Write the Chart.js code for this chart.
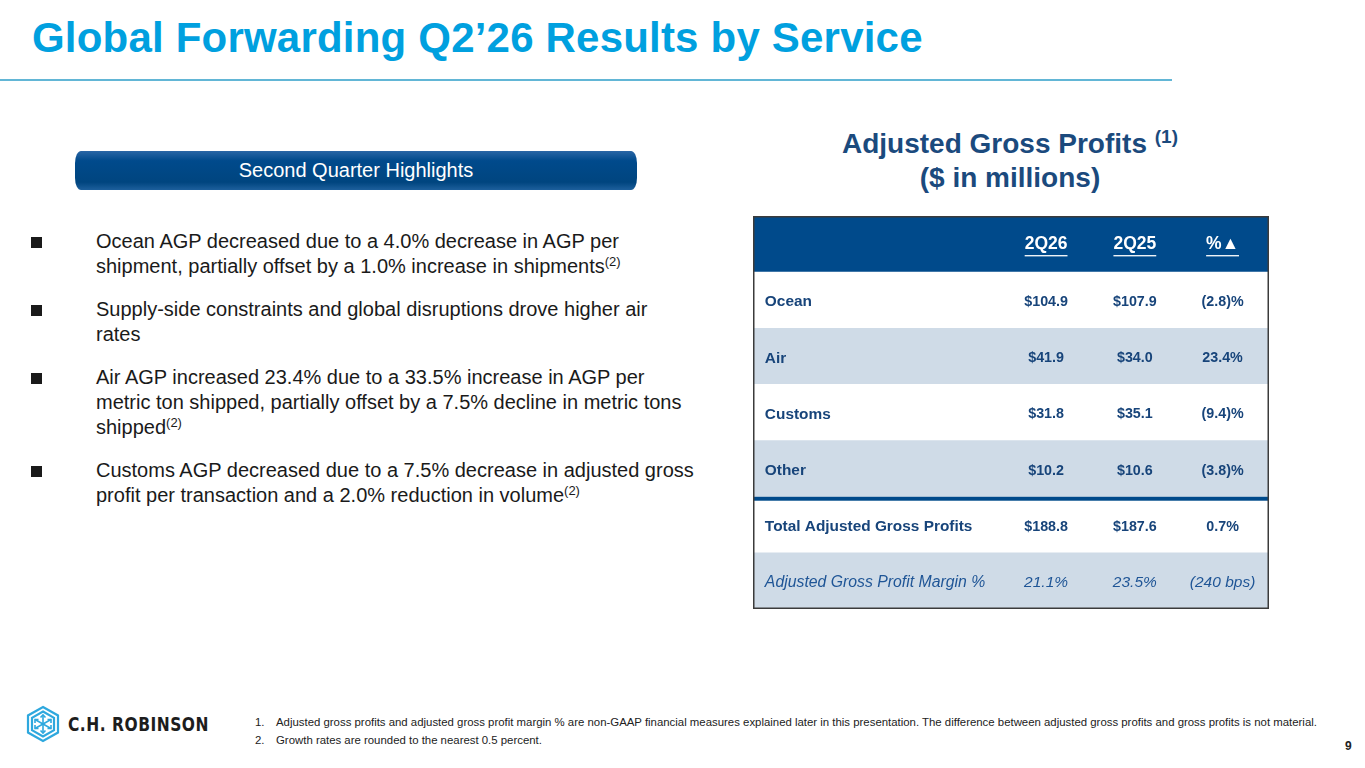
<!DOCTYPE html>
<html>
<head>
<meta charset="utf-8">
<script src="https://cdn.jsdelivr.net/npm/chart.js@4.4.1/dist/chart.umd.min.js"></script>
<style>
  html, body { margin: 0; padding: 0; background: #fff; }
  body { width: 1365px; height: 768px; position: relative; overflow: hidden; font-family: "Liberation Sans", Arial, sans-serif; }
  .title { position: absolute; left: 32px; top: 14px; font-size: 42px; font-weight: bold; color: #00a0df; letter-spacing: 0.2px; }
  .rule { position: absolute; left: 0; top: 79px; width: 1172px; height: 2px; background: #62b6d6; }
  .pill { position: absolute; left: 75px; top: 151px; width: 562px; height: 39px; border-radius: 6px / 12px;
          background: linear-gradient(#2a66a5, #004a8c 25%, #00457f 80%, #1d5f9c); color: #fff; font-size: 20px;
          text-align: center; line-height: 39px; }
  .bullets { position: absolute; left: 30px; top: 229px; width: 700px; font-size: 20px; color: #1a1a1a; line-height: 25.3px; white-space: nowrap; }
  .bullets .b { position: relative; padding-left: 66px; margin-bottom: 17.3px; }
  .bullets .b:before { content: ""; position: absolute; left: 1px; top: 8px; width: 11px; height: 11px; background: #1a1a1a; }
  sup { font-size: 13px; vertical-align: 0; position: relative; top: -7px; line-height: 0; }
  .agp { position: absolute; left: 760px; width: 500px; top: 127px; text-align: center; font-size: 28px; font-weight: bold; color: #1b4a7d; line-height: 34px; }
  .agp sup { font-size: 19px; top: -10px; }
  #wrap { position: absolute; left: 753px; top: 216px; width: 516px; height: 393px; }
  .notes { position: absolute; left: 255px; top: 713px; font-size: 11.4px; color: #222; line-height: 18px; }
  .notes span { display: inline-block; width: 21px; }
  .page { position: absolute; left: 1345px; top: 739px; font-size: 12px; font-weight: bold; color: #222; }
  .logo { position: absolute; left: 24px; top: 705px; }
  .logotext { position: absolute; left: 68px; top: 712px; font-family: "DejaVu Sans Condensed", "DejaVu Sans", sans-serif; font-size: 20px; font-weight: bold; color: #1d1d1d; letter-spacing: 0.6px; transform: scaleX(0.86); transform-origin: left; }
</style>
</head>
<body>
<div class="title">Global Forwarding Q2’26 Results by Service</div>
<div class="rule"></div>

<div class="pill">Second Quarter Highlights</div>

<div class="bullets">
  <div class="b">Ocean AGP decreased due to a 4.0% decrease in AGP per<br>shipment, partially offset by a 1.0% increase in shipments<sup>(2)</sup></div>
  <div class="b">Supply-side constraints and global disruptions drove higher air<br>rates</div>
  <div class="b">Air AGP increased 23.4% due to a 33.5% increase in AGP per<br>metric ton shipped, partially offset by a 7.5% decline in metric tons<br>shipped<sup>(2)</sup></div>
  <div class="b">Customs AGP decreased due to a 7.5% decrease in adjusted gross<br>profit per transaction and a 2.0% reduction in volume<sup>(2)</sup></div>
</div>

<div class="agp">Adjusted Gross Profits <sup>(1)</sup><br>($ in millions)</div>

<div id="wrap"><canvas id="agpTable"></canvas></div>

<svg class="logo" width="38" height="38" viewBox="0 0 38 38">
  <g fill="none" stroke="#2ea8de" stroke-width="2.2">
    <polygon points="19,2 34,10.5 34,27.5 19,36 4,27.5 4,10.5"/>
    <polygon points="19,6.5 30,12.8 30,25.2 19,31.5 8,25.2 8,12.8"/>
  </g>
  <g stroke="#2ea8de" stroke-width="1.6" fill="none">
    <line x1="19" y1="10" x2="19" y2="28"/>
    <line x1="11" y1="14.5" x2="27" y2="23.5"/>
    <line x1="27" y1="14.5" x2="11" y2="23.5"/>
    <polyline points="16.5,12.5 19,10 21.5,12.5"/>
    <polyline points="16.5,25.5 19,28 21.5,25.5"/>
    <polyline points="11,18 11,14.5 14.5,14.5"/>
    <polyline points="27,20 27,23.5 23.5,23.5"/>
    <polyline points="23.5,14.5 27,14.5 27,18"/>
    <polyline points="14.5,23.5 11,23.5 11,20"/>
  </g>
</svg>
<div class="logotext">C.H. ROBINSON</div>

<div class="notes">
  <div><span>1.</span>Adjusted gross profits and adjusted gross profit margin % are non-GAAP financial measures explained later in this presentation. The difference between adjusted gross profits and gross profits is not material.</div>
  <div><span>2.</span>Growth rates are rounded to the nearest 0.5 percent.</div>
</div>
<div class="page">9</div>

<script>
// table data
const columns = ['2Q26', '2Q25', '%▲'];
const services = ['Ocean', 'Air', 'Customs', 'Other'];
const agp2Q26 = [104.9, 41.9, 31.8, 10.2];
const agp2Q25 = [107.9, 34.0, 35.1, 10.6];
const pctChange = [-2.8, 23.4, -9.4, -3.8];
const totalLabel = 'Total Adjusted Gross Profits';
const totals = [188.8, 187.6, 0.7];
const marginLabel = 'Adjusted Gross Profit Margin %';
const margins = [21.1, 23.5];
const marginChangeBps = -240;

const money = v => '$' + v.toFixed(1);
const pct = v => v < 0 ? '(' + Math.abs(v).toFixed(1) + ')%' : v.toFixed(1) + '%';
const bps = v => v < 0 ? '(' + Math.abs(v) + ' bps)' : v + ' bps';

const rowLabels = ['header'].concat(services, [totalLabel, marginLabel]);
const rowCells = [columns];
services.forEach((s, i) => rowCells.push([money(agp2Q26[i]), money(agp2Q25[i]), pct(pctChange[i])]));
rowCells.push([money(totals[0]), money(totals[1]), pct(totals[2])]);
rowCells.push([margins[0].toFixed(1) + '%', margins[1].toFixed(1) + '%', bps(marginChangeBps)]);

// column layout (x scale runs 0..100 across the table)
const labelX = 2.3;
const colX = [56.8, 74.0, 91.0];

const navy = '#004a8b';
const light = '#cfdbe7';
const bandColors = [navy, '#ffffff', light, '#ffffff', light, '#ffffff', light];
const FONT = '"Liberation Sans", Arial, sans-serif';

const cellText = {
  id: 'cellText',
  afterDatasetsDraw(chart) {
    const { ctx, scales: { x, y } } = chart;
    ctx.save();
    ctx.textBaseline = 'middle';
    rowLabels.forEach((lab, r) => {
      const py = y.getPixelForValue(r) + (r === 0 ? 0 : 2);
      const italic = r === rowLabels.length - 1;
      ctx.fillStyle = r === 0 ? '#ffffff' : (italic ? '#1f5596' : '#17447a');
      if (r > 0) {
        ctx.font = (italic ? 'italic 15.8px ' : 'bold 15.4px ') + FONT;
        ctx.textAlign = 'left';
        ctx.fillText(lab, x.getPixelForValue(labelX), py);
      }
      if (r === 0) ctx.font = 'bold 17.5px ' + FONT;
      else if (italic) ctx.font = 'italic 15.5px ' + FONT;
      else ctx.font = 'bold 14.3px ' + FONT;
      rowCells[r].forEach((t, c) => {
        const px = x.getPixelForValue(colX[c]);
        ctx.textAlign = 'center';
        ctx.fillText(t, px, py);
        if (r === 0) {
          const w = ctx.measureText(t).width;
          ctx.fillRect(px - w / 2, py + 11, w, 1.3);
        }
      });
    });
    // divider above the total row
    const top = (y.getPixelForValue(4) + y.getPixelForValue(5)) / 2 + 2;
    ctx.fillStyle = navy;
    ctx.fillRect(x.left, top - 2, x.right - x.left, 4);
    // outer frame
    ctx.strokeStyle = '#3b3b3b';
    ctx.lineWidth = 1.5;
    ctx.strokeRect(x.left + 0.75, y.top + 0.75, x.right - x.left - 1.5, y.bottom - y.top - 1.5);
    ctx.restore();
  }
};

new Chart(document.getElementById('agpTable'), {
  type: 'bar',
  data: {
    labels: rowLabels,
    datasets: [{
      data: rowLabels.map(() => [0, 100]),
      backgroundColor: bandColors,
      borderWidth: 0,
      barPercentage: 1,
      categoryPercentage: 1
    }]
  },
  options: {
    indexAxis: 'y',
    responsive: true,
    maintainAspectRatio: false,
    animation: false,
    layout: { padding: 0 },
    plugins: { legend: { display: false }, tooltip: { enabled: false } },
    scales: {
      x: { type: 'linear', min: 0, max: 100, display: false },
      y: { type: 'category', display: false, offset: true }
    }
  },
  plugins: [cellText]
});
</script>
</body>
</html>
